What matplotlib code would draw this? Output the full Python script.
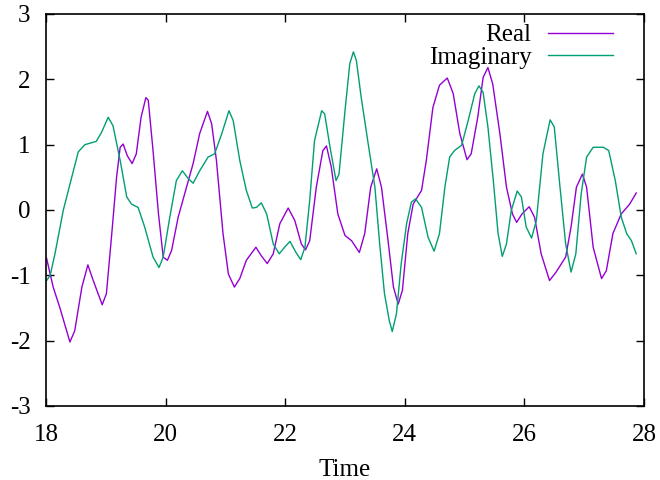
import numpy as np
import matplotlib
matplotlib.use('Agg')
import matplotlib.pyplot as plt

plt.rcParams['font.family'] = ['Liberation Serif', 'DejaVu Serif']
plt.rcParams['axes.unicode_minus'] = False

# values
t_real = [18.01, 18.12, 18.23, 18.40, 18.48, 18.60, 18.70, 18.79, 18.94, 19.01,
          19.10, 19.18, 19.24, 19.29, 19.36, 19.44, 19.51, 19.59, 19.67, 19.71,
          19.79, 19.88, 19.96, 20.03, 20.10, 20.21, 20.35, 20.46, 20.57, 20.70,
          20.77, 20.85, 20.96, 21.05, 21.15, 21.24, 21.35, 21.51, 21.60, 21.70,
          21.80, 21.91, 22.05, 22.16, 22.27, 22.34, 22.41, 22.52, 22.63, 22.69,
          22.77, 22.88, 23.00, 23.11, 23.24, 23.33, 23.43, 23.53, 23.61, 23.72,
          23.81, 23.89, 23.96, 24.05, 24.14, 24.28, 24.36, 24.47, 24.58, 24.71,
          24.81, 24.92, 25.04, 25.11, 25.22, 25.31, 25.39, 25.47, 25.59, 25.70,
          25.80, 25.87, 25.96, 26.08, 26.17, 26.28, 26.42, 26.53, 26.69, 26.78,
          26.87, 26.97, 27.04, 27.15, 27.29, 27.37, 27.48, 27.62, 27.76, 27.87]
real = [-0.74, -1.18, -1.49, -2.02, -1.85, -1.18, -0.84, -1.08, -1.45, -1.28,
        -0.36, 0.50, 0.96, 1.01, 0.83, 0.71, 0.86, 1.42, 1.72, 1.68,
        0.91, -0.05, -0.72, -0.77, -0.62, -0.11, 0.35, 0.71, 1.17, 1.51,
        1.32, 0.76, -0.36, -0.98, -1.18, -1.05, -0.77, -0.57, -0.70, -0.82,
        -0.67, -0.21, 0.03, -0.16, -0.52, -0.61, -0.47, 0.35, 0.91, 0.98,
        0.66, -0.06, -0.39, -0.47, -0.65, -0.36, 0.35, 0.63, 0.35, -0.47,
        -1.18, -1.44, -1.23, -0.36, 0.09, 0.30, 0.76, 1.57, 1.91, 2.02,
        1.78, 1.17, 0.77, 0.86, 1.42, 2.03, 2.18, 1.93, 1.17, 0.35,
        -0.06, -0.19, -0.06, 0.05, -0.11, -0.67, -1.08, -0.95, -0.72, -0.26,
        0.35, 0.55, 0.35, -0.57, -1.05, -0.93, -0.36, -0.06, 0.09, 0.26]

t_imag = [18.01, 18.07, 18.15, 18.29, 18.43, 18.54, 18.65, 18.84, 18.93, 19.04,
          19.12, 19.24, 19.35, 19.43, 19.54, 19.65, 19.79, 19.89, 19.96, 20.07,
          20.18, 20.28, 20.38, 20.46, 20.57, 20.71, 20.82, 20.94, 21.06, 21.13,
          21.24, 21.35, 21.45, 21.52, 21.60, 21.69, 21.80, 21.90, 21.99, 22.08,
          22.18, 22.26, 22.33, 22.41, 22.49, 22.61, 22.66, 22.75, 22.85, 22.90,
          23.00, 23.08, 23.14, 23.19, 23.27, 23.38, 23.50, 23.58, 23.66, 23.74,
          23.79, 23.86, 23.94, 24.03, 24.11, 24.18, 24.28, 24.39, 24.49, 24.58,
          24.67, 24.75, 24.83, 24.95, 25.06, 25.17, 25.24, 25.31, 25.39, 25.48,
          25.56, 25.63, 25.70, 25.78, 25.88, 25.95, 26.03, 26.12, 26.20, 26.31,
          26.43, 26.50, 26.59, 26.69, 26.78, 26.86, 26.95, 27.04, 27.15, 27.32,
          27.41, 27.52, 27.62, 27.71, 27.79, 27.87]
imag = [-1.08, -1.00, -0.67, 0.00, 0.50, 0.89, 1.00, 1.05, 1.19, 1.42,
        1.29, 0.76, 0.20, 0.09, 0.04, -0.26, -0.72, -0.88, -0.72, -0.11,
        0.45, 0.60, 0.48, 0.41, 0.60, 0.81, 0.86, 1.17, 1.52, 1.37,
        0.76, 0.30, 0.03, 0.04, 0.11, -0.06, -0.52, -0.67, -0.57, -0.48,
        -0.65, -0.76, -0.57, 0.15, 1.06, 1.52, 1.47, 0.96, 0.45, 0.55,
        1.52, 2.24, 2.42, 2.29, 1.73, 1.06, 0.35, -0.52, -1.28, -1.69,
        -1.86, -1.59, -0.82, -0.21, 0.12, 0.17, 0.04, -0.42, -0.63, -0.36,
        0.35, 0.81, 0.91, 0.99, 1.37, 1.78, 1.90, 1.80, 1.27, 0.45,
        -0.36, -0.71, -0.52, -0.01, 0.29, 0.20, -0.26, -0.43, -0.16, 0.86,
        1.38, 1.27, 0.40, -0.52, -0.95, -0.67, 0.25, 0.81, 0.96, 0.96,
        0.91, 0.45, -0.11, -0.36, -0.47, -0.67]

xticks = [18, 20, 22, 24, 26, 28]
yticks = [-3, -2, -1, 0, 1, 2, 3]

fig = plt.figure(figsize=(6.6, 4.8), dpi=100)
ax = fig.add_axes([46/660, 74/480, 598/660, 392/480])

ax.plot(t_real, real, color='#9400D3', lw=1.0, label='Real')
ax.plot(t_imag, imag, color='#009E73', lw=1.0, label='Imaginary')

ax.set_xlim(18, 28)
ax.set_ylim(-3, 3)
ax.set_xticks(xticks)
ax.set_yticks(yticks)
ax.tick_params(direction='in', length=6, width=1, top=True, right=True,
               labelsize=18, colors='black')
ax.tick_params(axis='x', pad=13)
ax.tick_params(axis='y', pad=11)
for s in ax.spines.values():
    s.set_linewidth(1.2)
ax.set_xlabel('Time', fontsize=18, labelpad=9)

ax.legend(loc='upper right', bbox_to_anchor=(0.948, 0.975), frameon=False,
          markerfirst=False, fontsize=18, handlelength=2.6, handletextpad=0.65,
          labelspacing=0.0, borderaxespad=0, borderpad=0)

plt.savefig('out.png', dpi=100)
